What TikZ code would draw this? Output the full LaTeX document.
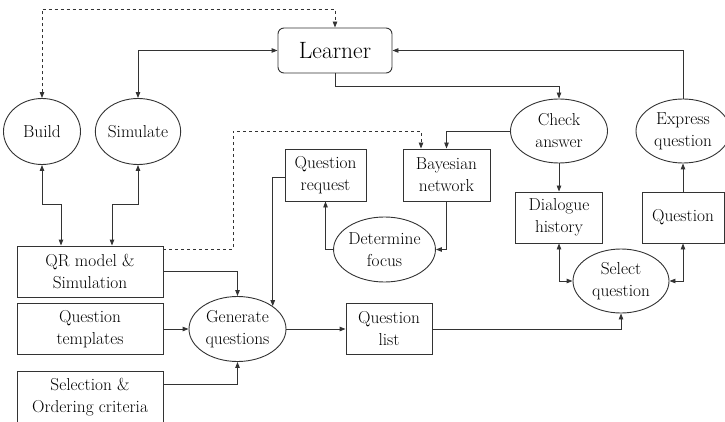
\documentclass[tikz,border=0pt]{standalone}
\usetikzlibrary{arrows.meta,shapes.geometric}

\begin{document}
\begin{tikzpicture}[x=1pt,y=-1pt,line width=0.9pt,draw=black!80,
   >={Triangle[length=6pt,width=4.5pt]},
   every node/.style={font=\fontsize{17.3}{22}\selectfont,inner sep=0pt,align=center},
   box/.style={draw,rectangle},
   oval/.style={draw,ellipse}]
   \useasboundingbox (0,0) rectangle (725,422);
   \node[box,rounded corners=6pt,minimum width=114pt,minimum height=45pt,
         font=\fontsize{23.6}{28}\selectfont] (learner) at (335,50.5) {Learner};
   \node[oval,minimum width=77pt,minimum height=66pt] (build) at (42,131.5) {Build};
   \node[oval,minimum width=76pt,minimum height=66pt] (simulate) at (138,131.5) {Simulate};
   \node[oval,minimum width=97pt,minimum height=64pt] (check) at (559,131) {Check\\answer};
   \node[oval,minimum width=94pt,minimum height=64pt] (express) at (683,131) {Express\\question};
   \node[box,minimum width=81pt,minimum height=52pt] (qreq) at (325.5,175) {Question\\request};
   \node[box,minimum width=87pt,minimum height=52pt] (bayes) at (446.5,175) {Bayesian\\network};
   \node[box,minimum width=87pt,minimum height=51pt] (dialog) at (559,217.5) {Dialogue\\history};
   \node[box,minimum width=82pt,minimum height=51pt] (question) at (683,217.5) {Question};
   \node[oval,minimum width=95pt,minimum height=65pt] (focus) at (384.5,249.5) {Determine\\focus};
   \node[oval,minimum width=96pt,minimum height=64pt] (selq) at (621,281) {Select\\question};
   \node[box,minimum width=146pt,minimum height=51pt] (qr) at (90,271.5) {QR model \&\\Simulation};
   \node[box,minimum width=146pt,minimum height=51pt] (qt) at (90,329) {Question\\templates};
   \node[box,minimum width=146pt,minimum height=52pt] (sel) at (90,397) {Selection \&\\Ordering criteria};
   \node[oval,minimum width=97pt,minimum height=65pt] (gen) at (237.5,329) {Generate\\questions};
   \node[box,minimum width=86pt,minimum height=51pt] (qlist) at (389,329) {Question\\list};
   \coordinate (top) at (0,9);

   \draw[dashed,<->] (build.north) |- (top -| learner.north) -- (learner.north);
   \draw[<->] (learner.west) -| (simulate.north);
   \draw[<->] (build.south) -- ++(0,39) -| ([xshift=-29pt]qr.north);
   \draw[<->] (simulate.south) -- ++(0,39) -| ([xshift=22pt]qr.north);
   \draw[->] (qr.east) -| (gen.north);
   \draw[->] (qt) -- (gen);
   \draw[->] ([yshift=13pt]sel.east) -| (gen.south);
   \draw[->] (gen) -- (qlist);
   \draw[->] (qlist.east) -| (selq.south);
   \draw[<->] (dialog.south) |- (selq.west);
   \draw[<->] (question.south) |- (selq.east);
   \draw[->] (question) -- (express);
   \draw[->] (express.north) |- (learner.east);
   \draw[->] (learner.south) -- ++(0,13) -| (check.north);
   \draw[->] (check.west) -| (bayes.north);
   \draw[->] (check) -- (dialog);
   \draw[dashed,->] ([yshift=22.5pt]qr.east) -- ++(70,0) -- ++(0,-118) -| ([xshift=-25.5pt]bayes.north);
   \draw[->] (bayes.south) |- (focus.east);
   \draw[->] (focus.west) -| (qreq.south);
   \draw[->] ([yshift=-2pt]qreq.west) -| (gen.33);

\end{tikzpicture}
\end{document}
